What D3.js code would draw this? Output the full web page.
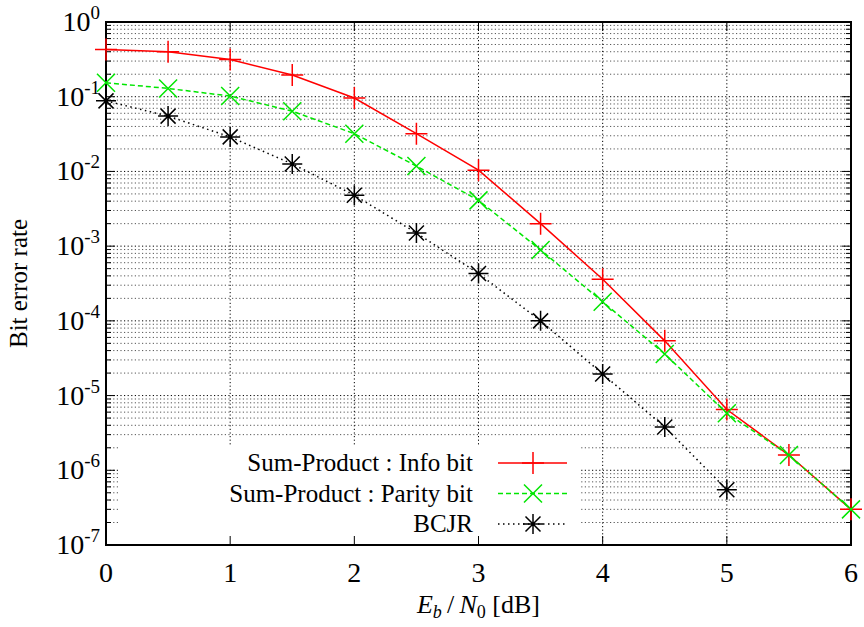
<!DOCTYPE html>
<html>
<head>
<meta charset="utf-8">
<script src="https://cdn.jsdelivr.net/npm/d3@7"></script>
<style>
  body { margin: 0; background: #fff; }
  text { font-family: 'Liberation Serif', 'Times New Roman', Times, 'DejaVu Serif', serif; }
</style>
</head>
<body>
<svg id="chart" width="864" height="627"></svg>
<script>
// Eb/N0 values (dB)
const snr = [0, 0.5, 1, 1.5, 2, 2.5, 3, 3.5, 4, 4.5, 5, 5.5, 6];
const snrBcjr = [0, 0.5, 1, 1.5, 2, 2.5, 3, 3.5, 4, 4.5, 5];

// Bit error rate per curve
const infoBer = [0.43, 0.40, 0.315, 0.195, 0.096, 0.032, 0.0104, 0.0020, 3.6e-4, 5.4e-5, 6.5e-6, 1.6e-6, 3.0e-7];
const parityBer = [0.154, 0.129, 0.102, 0.064, 0.032, 0.0118, 0.0041, 8.9e-4, 1.8e-4, 3.6e-5, 5.8e-6, 1.6e-6, 3.0e-7];
const bcjrBer = [0.088, 0.055, 0.029, 0.0126, 0.0048, 0.0015, 4.3e-4, 1.0e-4, 1.94e-5, 3.8e-6, 5.5e-7];

const xTicks = [0, 1, 2, 3, 4, 5, 6];
const yExps = [0, -1, -2, -3, -4, -5, -6, -7];

const series = [
    { name: 'Sum-Product : Info bit', x: snr, y: infoBer, color: '#ff0000', dash: null, marker: 'plus' },
    { name: 'Sum-Product : Parity bit', x: snr, y: parityBer, color: '#00e600', dash: '5,3', marker: 'cross' },
    { name: 'BCJR', x: snrBcjr, y: bcjrBer, color: '#000000', dash: '1.5,3.5', marker: 'star' }
];

const FONT = "'Liberation Serif', 'Times New Roman', Times, 'DejaVu Serif', serif";

const svg = d3.select('#chart').attr('font-family', FONT);
const margin = { left: 106, top: 22, right: 13, bottom: 82 };
const W = 864 - margin.left - margin.right;
const H = 627 - margin.top - margin.bottom;

const x = d3.scaleLinear().domain([0, 6]).range([0, W]);
const y = d3.scaleLog().domain([1e-7, 1]).range([H, 0]);

const g = svg.append('g').attr('transform', `translate(${margin.left},${margin.top})`);

// all log ticks (major + minor)
const minorVals = [];
for (let e = -7; e < 0; e++) {
    for (let m = 2; m <= 9; m++) minorVals.push(m * Math.pow(10, e));
}
const majorVals = yExps.map(e => Math.pow(10, e));

// Grid lines
g.append('g').selectAll('line.ymin')
    .data(minorVals)
    .enter().append('line')
    .attr('x1', 0).attr('x2', W)
    .attr('y1', d => y(d)).attr('y2', d => y(d))
    .attr('stroke', '#555').attr('stroke-width', 1)
    .attr('stroke-dasharray', '1.2,2.4');

g.append('g').selectAll('line.ymaj')
    .data(majorVals)
    .enter().append('line')
    .attr('x1', 0).attr('x2', W)
    .attr('y1', d => y(d)).attr('y2', d => y(d))
    .attr('stroke', '#000').attr('stroke-width', 1)
    .attr('stroke-dasharray', '1.2,2.4');

g.append('g').selectAll('line.xgrid')
    .data(xTicks.slice(1, -1))
    .enter().append('line')
    .attr('x1', d => x(d)).attr('x2', d => x(d))
    .attr('y1', 0).attr('y2', H)
    .attr('stroke', '#000').attr('stroke-width', 1)
    .attr('stroke-dasharray', '1.2,2.4');

// Legend background (opaque, hides grid)
const legX = 13, legY = 423;
g.append('rect')
    .attr('x', legX).attr('y', legY)
    .attr('width', 462).attr('height', H - legY)
    .attr('fill', '#fff');

// Ticks (inward, mirrored)
function drawTicks(sel, vals, len, orient) {
    sel.selectAll(null).data(vals).enter().append('line')
        .attr('stroke', '#000').attr('stroke-width', 1)
        .each(function (d) {
            const l = d3.select(this);
            if (orient === 'left') l.attr('x1', 0).attr('x2', len).attr('y1', y(d)).attr('y2', y(d));
            if (orient === 'right') l.attr('x1', W).attr('x2', W - len).attr('y1', y(d)).attr('y2', y(d));
            if (orient === 'bottom') l.attr('x1', x(d)).attr('x2', x(d)).attr('y1', H).attr('y2', H - len);
            if (orient === 'top') l.attr('x1', x(d)).attr('x2', x(d)).attr('y1', 0).attr('y2', len);
        });
}
const ticks = g.append('g');
drawTicks(ticks, majorVals, 9, 'left');
drawTicks(ticks, majorVals, 9, 'right');
drawTicks(ticks, minorVals, 5, 'left');
drawTicks(ticks, minorVals, 5, 'right');
drawTicks(ticks, xTicks, 9, 'bottom');
drawTicks(ticks, xTicks, 9, 'top');

// Border
g.append('rect')
    .attr('x', 0).attr('y', 0).attr('width', W).attr('height', H)
    .attr('fill', 'none').attr('stroke', '#000').attr('stroke-width', 2);

// Tick labels
g.append('g').selectAll('text')
    .data(xTicks)
    .enter().append('text')
    .attr('x', d => x(d)).attr('y', H + 37)
    .attr('text-anchor', 'middle')
    .attr('font-size', 28)
    .text(d => d);

const yl = g.append('g').selectAll('text')
    .data(yExps)
    .enter().append('text')
    .attr('x', -6).attr('y', d => y(Math.pow(10, d)) + 9)
    .attr('text-anchor', 'end')
    .attr('font-size', 28);
yl.append('tspan').text('10');
yl.append('tspan').attr('dy', -12).attr('font-size', 19).text(d => d);

// Axis titles
svg.append('text')
    .attr('transform', `translate(27,${margin.top + H / 2}) rotate(-90)`)
    .attr('text-anchor', 'middle')
    .attr('font-size', 25)
    .text('Bit error rate');

const xt = svg.append('text')
    .attr('x', margin.left + W / 2).attr('y', 613)
    .attr('text-anchor', 'middle')
    .attr('font-size', 26);
xt.append('tspan').attr('font-style', 'italic').text('E');
xt.append('tspan').attr('font-style', 'italic').attr('font-size', 18).attr('dy', 5).text('b');
xt.append('tspan').attr('dy', -5).text('\u2009/\u2009');
xt.append('tspan').attr('font-style', 'italic').text('N');
xt.append('tspan').attr('font-size', 18).attr('dy', 5).text('0');
xt.append('tspan').attr('dy', -5).text(' [dB]');

// Marker shapes
function markerPath(type, s) {
    if (type === 'plus') return `M${-s},0L${s},0M0,${-s}L0,${s}`;
    if (type === 'cross') return `M${-s},${-s}L${s},${s}M${-s},${s}L${s},${-s}`;
    const d = s * 0.75;
    return `M${-s},0L${s},0M0,${-s}L0,${s}M${-d},${-d}L${d},${d}M${-d},${d}L${d},${-d}`;
}
const markerSize = { plus: 11, cross: 9, star: 10 };

const line = d3.line().x(d => x(d[0])).y(d => y(d[1]));

series.forEach(s => {
    const pts = s.x.map((v, i) => [v, s.y[i]]);
    g.append('path')
        .datum(pts)
        .attr('d', line)
        .attr('fill', 'none')
        .attr('stroke', s.color)
        .attr('stroke-width', 1.5)
        .attr('stroke-dasharray', s.dash);
    g.append('g').selectAll('path')
        .data(pts)
        .enter().append('path')
        .attr('transform', d => `translate(${x(d[0])},${y(d[1])})`)
        .attr('d', markerPath(s.marker, markerSize[s.marker]))
        .attr('stroke', s.color)
        .attr('stroke-width', 1.5)
        .attr('fill', 'none');
});

// Legend
const leg = g.append('g');
series.forEach((s, i) => {
    const cy = 441 + i * 30.5;
    leg.append('text')
        .attr('x', 367).attr('y', cy + 8)
        .attr('text-anchor', 'end')
        .attr('font-size', 25)
        .text(s.name);
    leg.append('line')
        .attr('x1', 392).attr('x2', 461)
        .attr('y1', cy).attr('y2', cy)
        .attr('stroke', s.color).attr('stroke-width', 1.5)
        .attr('stroke-dasharray', s.dash);
    leg.append('path')
        .attr('transform', `translate(427,${cy})`)
        .attr('d', markerPath(s.marker, markerSize[s.marker]))
        .attr('stroke', s.color).attr('stroke-width', 1.5)
        .attr('fill', 'none');
});
</script>
</body>
</html>
